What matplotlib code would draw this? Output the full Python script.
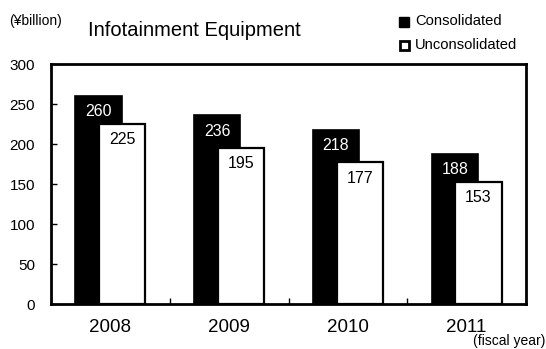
import matplotlib
matplotlib.use("Agg")
import matplotlib.pyplot as plt
from matplotlib.patches import Rectangle
import numpy as np

years = ["2008", "2009", "2010", "2011"]
consolidated = [260, 236, 218, 188]
unconsolidated = [225, 195, 177, 153]
y_ticks = [0, 50, 100, 150, 200, 250, 300]

plt.rcParams["font.family"] = ["Liberation Sans", "DejaVu Sans"]

fig = plt.figure(figsize=(5.46, 3.49), dpi=100)
W, H = 546, 349
ax = fig.add_axes([51 / W, 1 - 304 / H, (526 - 51) / W, (304 - 64) / H])

x = np.arange(len(years))
bw = 0.39
off = 0.1
ax.bar(x - off, consolidated, width=bw, color="black", edgecolor="black",
       linewidth=1.2, zorder=2)
ax.bar(x + off, unconsolidated, width=bw, color="white", edgecolor="black",
       linewidth=1.6, zorder=3)

for xi, v in zip(x, consolidated):
    ax.annotate(str(v), (xi - off, v), xytext=(0, -16), textcoords="offset pixels",
                ha="center", va="center", color="white", fontsize=11.5, zorder=4)
for xi, v in zip(x, unconsolidated):
    ax.annotate(str(v), (xi + off, v), xytext=(0, -16), textcoords="offset pixels",
                ha="center", va="center", color="black", fontsize=11.5, zorder=4)

ax.set_xlim(-0.5, len(years) - 0.5)
ax.set_ylim(0, 300)
ax.set_yticks(y_ticks)
ax.set_yticklabels([str(t) for t in y_ticks], fontsize=11)
ax.tick_params(axis="y", direction="in", length=4, width=1, pad=11.5)

# category labels centred, tick marks at category boundaries
ax.set_xticks(x)
ax.set_xticklabels(years, fontsize=13.5)
ax.tick_params(axis="x", which="major", length=0, pad=10.5)
ax.set_xticks(x[:-1] + 0.5, minor=True)
ax.tick_params(axis="x", which="minor", direction="in", length=4, width=1)

for s in ax.spines.values():
    s.set_linewidth(2)

fig.text(9 / W, 1 - 21 / H, "(¥billion)", fontsize=10, ha="left", va="center")
fig.text(88 / W, 1 - 31 / H, "Infotainment Equipment", fontsize=14.5, ha="left", va="center")
fig.text(545 / W, 1 - 348 / H, "(fiscal year)", fontsize=10, ha="right", va="bottom")

# legend
fig.patches.append(Rectangle((399 / W, 1 - 27 / H), 10 / W, 10 / H, transform=fig.transFigure,
                             facecolor="black", edgecolor="black", linewidth=1))
fig.text(415 / W, 1 - 21 / H, "Consolidated", fontsize=10.6, ha="left", va="center")
fig.patches.append(Rectangle((399.5 / W, 1 - 50 / H), 9 / W, 9 / H, transform=fig.transFigure,
                             facecolor="white", edgecolor="black", linewidth=2))
fig.text(415 / W, 1 - 45 / H, "Unconsolidated", fontsize=10.6, ha="left", va="center")

fig.savefig("out.png", dpi=100)
